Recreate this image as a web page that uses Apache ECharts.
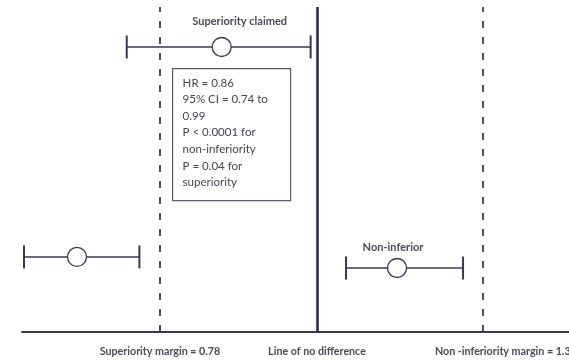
<!DOCTYPE html>
<html>
<head>
<meta charset="utf-8">
<script src="https://cdn.jsdelivr.net/npm/echarts@6/dist/echarts.min.js"></script>
<style>
  html, body { margin: 0; padding: 0; background: #fff; }
  #chart { width: 569px; height: 360px; }
</style>
</head>
<body>
<div id="chart"></div>
<script>
// Trial results drawn as hazard-ratio intervals on a log scale
const rowNames = ['Superiority claimed', '', 'Non-inferior'];
const rowLevel = [87.7, 23.1, 19.7];          // vertical placement of each row (0 = axis, 100 = top)
const hrPoint  = [0.86, 0.684, 1.135];
const ciLow    = [0.74, 0.629, 1.047];
const ciHigh   = [0.99, 0.755, 1.26];

// Reference lines on the hazard-ratio axis
const margins      = [0.78, 1.0, 1.3];
const marginLabels = ['Superiority margin = 0.78', 'Line of no difference', 'Non -inferiority margin = 1.3'];
const marginDashed = [true, false, true];

// Summary statistics box
const statLines = ['HR = 0.86', '95% CI = 0.74 to', '0.99', 'P < 0.0001 for', 'non-inferiority', 'P = 0.04 for', 'superiority'];

const ink = '#3a3656';
const labelInk = '#4a4a58';
const font = 'Lato, "Open Sans", sans-serif';

// label placement around each estimate marker
const labelShift = [[18, -26], [0, 0], [-4, -21]];

const chart = echarts.init(document.getElementById('chart'), null, { renderer: 'canvas' });

chart.setOption({
  backgroundColor: '#ffffff',
  animation: false,
  grid: { left: 22, right: 0, top: 7, bottom: 28 },
  xAxis: {
    type: 'log',
    logBase: Math.E,
    min: 0.627,
    max: 1.49,
    axisLine: { show: true, lineStyle: { color: ink, width: 2 } },
    axisTick: { show: false },
    axisLabel: { show: false },
    splitLine: { show: false }
  },
  yAxis: {
    type: 'value',
    min: 0,
    max: 100,
    show: false
  },
  series: [
    {
      type: 'line',
      data: [],
      silent: true,
      markLine: {
        symbol: 'none',
        silent: true,
        data: margins.map((v, i) => ({
          xAxis: v,
          lineStyle: {
            color: marginDashed[i] ? '#403d52' : '#2f2b4f',
            width: marginDashed[i] ? 1.8 : 2.6,
            type: marginDashed[i] ? [7, 9] : 'solid'
          },
          label: {
            show: true,
            position: 'start',
            distance: 14,
            formatter: marginLabels[i],
            color: labelInk,
            fontFamily: font,
            fontWeight: 'bold',
            fontSize: 10.7,
            padding: i === 2 ? [0, 0, 0, 40] : 0
          }
        }))
      }
    },
    {
      type: 'custom',
      data: rowNames.map((n, i) => [ciLow[i], ciHigh[i], hrPoint[i], rowLevel[i], n]),
      encode: { x: [0, 1, 2], y: 3 },
      renderItem: function (params, api) {
        const y = api.value(3);
        const lo = api.coord([api.value(0), y]);
        const hi = api.coord([api.value(1), y]);
        const pt = api.coord([api.value(2), y]);
        const cap = 11.5;
        const name = rowNames[params.dataIndex];
        const shift = labelShift[params.dataIndex];
        const children = [
          { type: 'line', shape: { x1: lo[0], y1: lo[1], x2: hi[0], y2: hi[1] }, style: { stroke: ink, lineWidth: 1.5 } },
          { type: 'line', shape: { x1: lo[0], y1: lo[1] - cap, x2: lo[0], y2: lo[1] + cap }, style: { stroke: ink, lineWidth: 2 } },
          { type: 'line', shape: { x1: hi[0], y1: hi[1] - cap, x2: hi[0], y2: hi[1] + cap }, style: { stroke: ink, lineWidth: 2 } },
          { type: 'circle', shape: { cx: pt[0], cy: pt[1], r: 9.5 }, style: { fill: '#ffffff', stroke: ink, lineWidth: 1.3 } }
        ];
        if (name) {
          children.push({
            type: 'text',
            x: pt[0] + shift[0],
            y: pt[1] + shift[1],
            style: {
              text: name,
              fill: labelInk,
              font: 'bold 11px ' + font,
              align: 'center',
              verticalAlign: 'middle'
            }
          });
        }
        return { type: 'group', children: children };
      }
    }
  ],
  graphic: [
    {
      type: 'group',
      left: 172,
      top: 68,
      children: [
        {
          type: 'rect',
          shape: { x: 0, y: 0, width: 118, height: 132 },
          style: { fill: '#ffffff', stroke: '#5c5c66', lineWidth: 1.2 }
        },
        {
          type: 'text',
          x: 10,
          y: 6,
          style: {
            text: statLines.join('\n'),
            fill: '#454550',
            font: '11.5px ' + font,
            lineHeight: 16.6
          }
        }
      ]
    }
  ]
});
</script>
</body>
</html>
